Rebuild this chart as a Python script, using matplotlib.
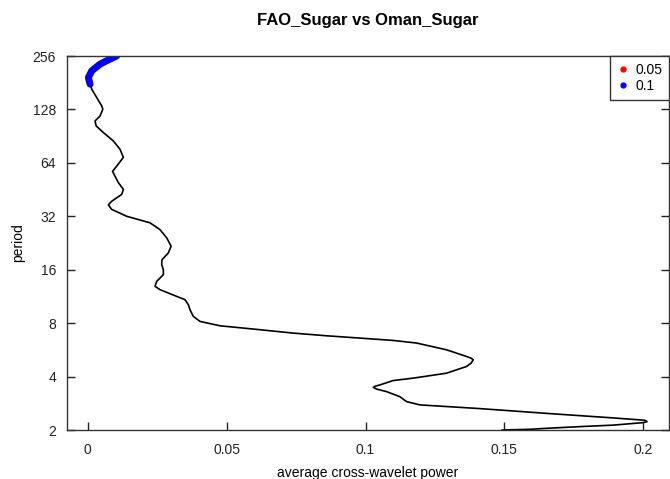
import matplotlib
matplotlib.use("Agg")
import matplotlib.pyplot as plt
from matplotlib.lines import Line2D

plt.rcParams['font.family'] = ['Liberation Sans', 'DejaVu Sans']

# Average cross-wavelet power by period, listed from the longest period to the shortest
period = [256.0, 245.9, 230.4, 211.1, 193.7, 177.7, 166.5, 149.4, 134.0, 128.4,
          117.6, 110.2, 103.3, 94.8, 85.0, 76.3, 68.7, 62.8, 57.3, 49.5,
          45.4, 42.5, 38.9, 37.1, 35.0, 32.0, 29.4, 26.9, 24.2, 21.7,
          19.9, 18.2, 17.1, 16.0, 15.0, 13.76, 12.9, 12.35, 11.32, 10.85,
          10.16, 9.52, 8.73, 8.18, 7.73, 7.41, 7.03, 6.79, 6.59, 6.39,
          6.18, 5.66, 5.19, 5.08, 4.97, 4.76, 4.56, 4.18, 3.92, 3.80, 3.59,
          3.53, 3.48, 3.40, 3.29, 3.08, 2.89, 2.77, 2.64, 2.48, 2.34, 2.27,
          2.23, 2.20, 2.13, 2.09, 2.045, 2.018, 2.0]
power = [0.0104, 0.0080, 0.0044, 0.0014, 0.0002, 0.0008, 0.0014, 0.0032, 0.0050, 0.0054,
         0.0044, 0.0026, 0.0030, 0.0056, 0.0092, 0.0116, 0.0128, 0.0109, 0.0089, 0.0110,
         0.0128, 0.0122, 0.0086, 0.0074, 0.0086, 0.0140, 0.0224, 0.0260, 0.0284, 0.0300,
         0.0290, 0.0267, 0.0266, 0.0272, 0.0272, 0.0248, 0.0242, 0.0260, 0.0320, 0.0350,
         0.0362, 0.0368, 0.0380, 0.0404, 0.0476, 0.0596, 0.0740, 0.0860, 0.0980, 0.1100,
         0.1184, 0.1292, 0.1364, 0.1380, 0.1388, 0.1380, 0.1364, 0.1292, 0.1172, 0.1100,
         0.1052, 0.1035, 0.1028, 0.1040, 0.1076, 0.1124, 0.1148, 0.1196, 0.1412, 0.1654,
         0.1891, 0.2006, 0.2014, 0.1999, 0.1891, 0.1773, 0.1654, 0.1592, 0.1492]
# Significance flags at the 0.1 level (none reach 0.05)
sig_01 = [1, 1, 1, 1, 1, 1] + [0] * (len(period) - 6)

x_ticks = [0, 0.05, 0.1, 0.15, 0.2]
x_tick_labels = ["0", "0.05", "0.1", "0.15", "0.2"]
y_ticks = [2, 4, 8, 16, 32, 64, 128, 256]

W, H = 670, 479
fig = plt.figure(figsize=(W / 100, H / 100), dpi=100)
ax = fig.add_axes([67 / W, (H - 430) / H, (669 - 67) / W, (430 - 56) / H])

ax.plot(power, period, color="black", lw=1.2, solid_joinstyle="round")

sig_p = [p for p, s in zip(period, sig_01) if s]
sig_w = [w for w, s in zip(power, sig_01) if s]
ax.plot(sig_w, sig_p, color="#0000ee", lw=5, solid_capstyle="round",
        solid_joinstyle="round")

ax.set_yscale("log", base=2)
ax.set_ylim(2, 256)
ax.set_xlim(-0.0075, 0.2093)
ax.set_yticks(y_ticks)
ax.set_yticklabels([str(t) for t in y_ticks])
ax.yaxis.set_minor_locator(matplotlib.ticker.NullLocator())
ax.set_xticks(x_ticks)
ax.set_xticklabels(x_tick_labels)

ax.tick_params(axis="both", direction="in", length=5.5, width=1.0,
               labelsize=10, colors="#222222")
ax.tick_params(axis="y", right=True, pad=8)
ax.tick_params(axis="x", pad=9)
for s in ax.spines.values():
    s.set_color("#333333")
    s.set_linewidth(1.0)

ax.set_title("FAO_Sugar vs Oman_Sugar", fontsize=12, fontweight="bold", pad=22)
ax.set_xlabel("average cross-wavelet power", fontsize=10, labelpad=7)
ax.set_ylabel("period", fontsize=10, labelpad=5)

handles = [Line2D([], [], ls="none", marker="o", ms=3.5, color="red"),
           Line2D([], [], ls="none", marker="o", ms=3.5, color="blue")]
leg = ax.legend(handles, ["0.05", "0.1"], loc="upper right", borderaxespad=0,
                fancybox=False, edgecolor="#333333", framealpha=1, fontsize=10,
                handlelength=0.8, handletextpad=0.5, borderpad=0.5,
                labelspacing=0.15)
leg.get_frame().set_linewidth(1.0)

fig.savefig("out.png", dpi=100)
